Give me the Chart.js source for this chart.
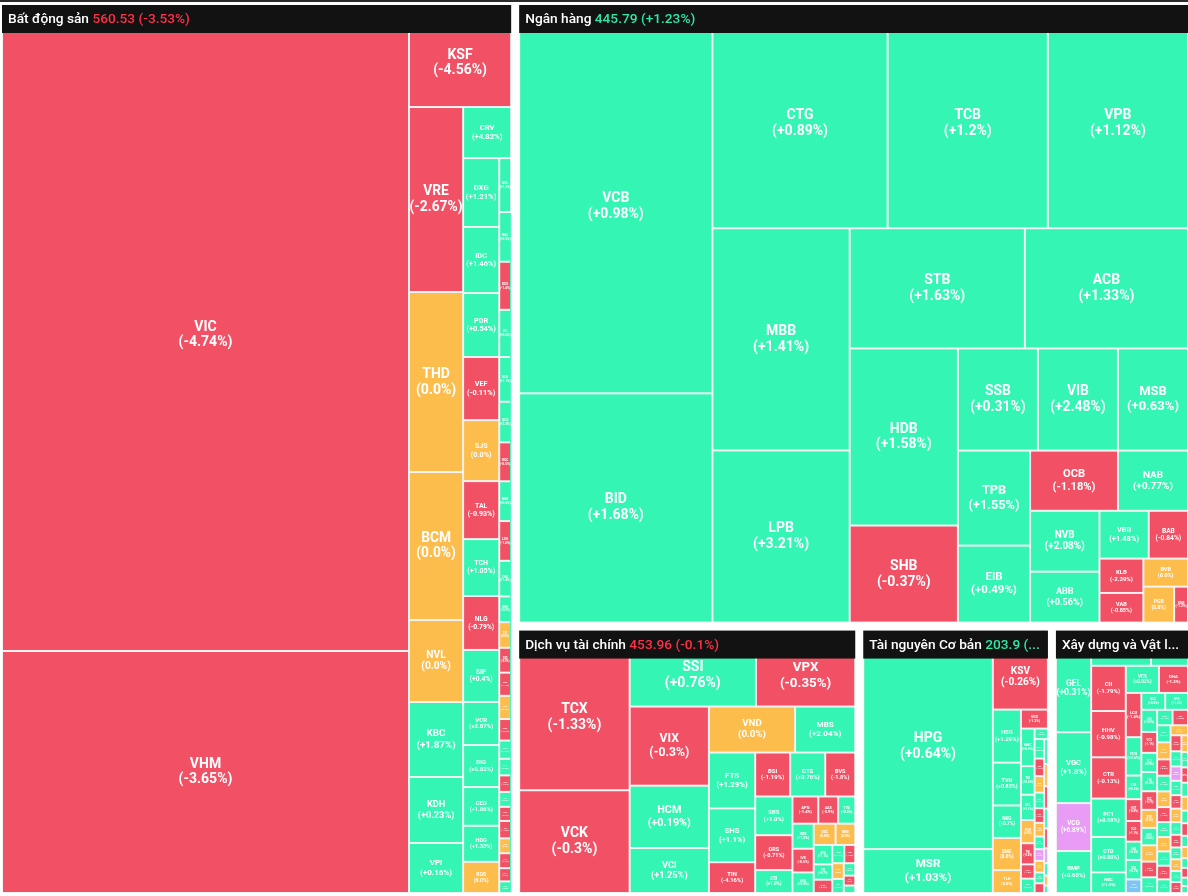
<!DOCTYPE html>
<html>
<head>
<meta charset="utf-8">
<title>Bản đồ nhiệt theo ngành</title>
<script src="https://cdn.jsdelivr.net/npm/chart.js@4.4.1/dist/chart.umd.min.js"></script>
<style>
	html, body { margin: 0; padding: 0; background: #fff; }
	#wrap { position: relative; width: 1188px; height: 896px; }
	#topline { position: absolute; left: 0; top: 0; width: 1188px; height: 2px; background: #2b2b2b; }
</style>
</head>
<body>
<div id="wrap"><canvas id="chart"></canvas><div id="topline"></div></div>
<script>
	// sectors (headers)
	var sectorNames = ['Bất động sản', 'Ngân hàng', 'Dịch vụ tài chính', 'Tài nguyên Cơ bản', 'Xây dựng và Vật liệu'];
	var sectorIndex = ['560.53', '445.79', '453.96', '203.9', '187.42'];
	var sectorChange = [-3.53, 1.23, -0.1, 0.52, 0.31];

	// Bất động sản
	var bdsTickers = ['VIC','VHM','KSF','VRE','THD','BCM','NVL','KBC','KDH','VPI','CRV','DXG','IDC','PDR','VEF','SJS','TAL','TCH','NLG','SIP','VCR','DIG','CEO','HDG','KOS',
		'NTL','HQC','DXS','ITC','SCR','QCG','HDC','NBB','LDG','CRE','DRH','TIP','D2D','SZC','LHG','NVT','HAR','DTA','TDH','PTL','SGR','TIX','VRC','FIR','CCL','HTN','AGG'];
	var bdsValues = [2688.1,1007.0,106.6,102.4,99.6,81.9,45.4,41.5,36.5,27.7,25.1,25.4,24.4,23.6,23.3,22.5,21.4,21.0,19.9,19.2,15.9,15.5,14.3,13.3,11.5,
		6.6,6.0,5.8,5.7,5.4,4.9,4.7,4.8,4.8,4.3,3.1,3.1,3.0,2.8,2.8,2.6,2.2,2.0,2.0,1.8,1.7,2.1,1.8,1.8,1.6,1.4,1.1];
	var bdsChanges = [-4.74,-3.65,-4.56,-2.67,0,0,0,1.87,0.23,0.16,4.82,1.21,1.46,0.54,-0.11,0,-0.93,1.05,-0.79,0.4,2.87,0.82,1.86,1.33,0,
		1.2,0.9,-1.4,0.6,1.1,2.3,-0.5,0.8,-1.8,1.4,0.7,0,-0.9,-1.3,0,-0.6,1.9,0.5,-2.1,0.3,-0.7,-1.0,0,-1.6,-0.4,1.5,0.9];

	// Ngân hàng
	var nhTickers = ['VCB','BID','CTG','TCB','VPB','MBB','LPB','STB','ACB','HDB','SHB','SSB','VIB','MSB','TPB','EIB','OCB','NAB','NVB','ABB','VBB','BAB','KLB','VAB','BVB','PGB','SGB'];
	var nhValues = [767.6,453.1,400.0,365.8,320.0,311.8,241.6,215.3,200.5,196.0,107.4,83.6,83.6,73.2,70.1,56.8,54.1,43.1,43.2,36.1,24.1,19.2,15.4,13.3,12.8,11.3,5.1];
	var nhChanges = [0.98,1.68,0.89,1.2,1.12,1.41,3.21,1.63,1.33,1.58,-0.37,0.31,2.48,0.63,1.55,0.49,-1.18,0.77,2.08,0.56,1.48,-0.84,-2.39,-0.85,0,0,-1.2];

	// Dịch vụ tài chính
	var dvTickers = ['TCX','VCK','SSI','VPX','VIX','HCM','VCI','VND','MBS','FTS','SHS','TIN','BSI','CTS','BVS','SBS','ORS','CSI',
		'APG','AAS','TVS','VDS','IVS','EVS','DSC','BMS','APS','PSI','AGR','TVB','HBS','WSS','VIG','PHS','TCI','SVS'];
	var dvValues = [185.7,119.5,101.0,79.4,66.0,52.0,37.5,41.7,29.1,27.2,26.2,15.0,16.2,16.2,13.9,15.2,13.7,9.0,
		7.4,5.7,4.9,5.6,5.3,4.6,4.9,4.4,3.8,3.0,2.6,2.3,2.1,1.9,1.7,1.5,1.2,0.9];
	var dvChanges = [-1.33,-0.3,0.76,-0.35,-0.3,0.19,1.25,0,2.04,1.29,1.1,-4.16,-1.19,0.76,-1.8,1.0,-0.71,1.0,
		-1.4,-0.9,0.8,1.2,-0.6,0.5,0,0,1.1,0.7,-0.8,0.4,-1.0,0,0.6,0.9,-0.5,0.3];

	// Tài nguyên Cơ bản
	var tnTickers = ['HPG','MSR','KSV','HSG','TVN','NKG','SMC','TLH','VGS','HMC','TIS','DTL','POM','TNI','VCA','KVC','SHI',
		'MCP','TDS','DNA','BKC','HLC','TVD','NBC','THT','MDC','TC6','CST','TNT','VIF','VTZ','HGM','KTL','LCM','BMC','NHH','DHM'];
	var tnValues = [303.7,61.0,46.7,16.0,12.9,9.8,9.7,6.9,5.5,5.5,4.2,3.7,3.4,3.1,2.1,2.1,1.5,
		2.0,1.8,1.7,1.6,1.5,1.4,1.3,1.2,1.2,1.1,1.0,1.0,0.9,0.9,0.8,0.8,0.6,0.5,0.4,0.3];
	var tnChanges = [0.64,1.03,-0.26,1.29,0.83,0.7,0,0,-1.2,0.9,0.6,1.1,0,-0.8,-1.3,0.5,0.4,
		0.8,-1.1,0,1.5,-0.7,0,0.4,6.9,0,0.6,-0.9,1.2,0,-1.4,0.5,-0.6,6.9,0.7,0,0.3];

	// Xây dựng và Vật liệu
	var xdTickers = ['GEL','VGC','VCG','BMP','HT1','KSB','CII','HHV','CTR','PC1','CTD','HBC','VCS','DHA','LCG','FCN','C4G','HUT','TCD','VNE','SCG','HID',
		'BCC','DPG','LIG','VC3','VC7','L14','CDC','DTD','MST','PVX','TV2','L18','CTX','SCI','CKG','NHA','HVH','S99','LUT','ICG',
		'PXI','MCG','DIH','VGV','BCE','DC4','SD5','SD9','VMC','VXB','HTI','THG','SZL','PHC','CRC','HAS','PTB','CTI','TCR','VIT',
		'DXV','QNC','BTS','HOM','VCC','LM8','HU1','HUB','VE4','MDG','CIG'];
	var xdValues = [39.0,27.2,18.4,16.1,23.0,14.2,17.1,17.5,15.6,14.5,13.4,7.8,9.8,8.6,7.5,6.5,4.0,3.7,3.5,3.1,3.3,2.3,
		4.4,4.2,3.8,3.6,3.3,3.3,3.2,3.1,3.0,2.8,2.7,2.7,2.6,2.6,2.5,2.5,2.4,2.3,2.3,2.2,
		2.2,2.1,2.1,2.0,2.0,1.9,1.9,1.8,1.7,1.7,1.6,1.6,1.5,1.5,1.4,1.4,1.3,1.3,1.2,1.1,
		1.1,1.0,1.0,0.9,0.9,0.8,0.8,0.7,0.7,0.6,0.5];
	var xdChanges = [0.31,1.3,6.89,0.65,0.5,0.8,-1.79,-0.98,-0.13,0.68,0.88,1.0,0.52,-1.2,-1.4,0.6,0.5,-0.8,-1.1,0.4,0.7,-6.9,
		0.8,1.2,0.5,-1.1,0.9,1.4,-0.7,0,0.6,0,-1.5,0.7,1.1,-0.9,0.4,0,-0.6,1.3,0,-1.2,
		0.8,0,0.5,-0.8,0.9,0,-0.4,0.6,6.9,1.0,-1.3,0,0.7,-0.5,0.3,0,1.2,-0.9,0,0.4,
		-0.7,0.6,0,0.9,-1.0,0.5,0,0.8,-0.3,0.4,0.2];

	var sectorTickers = [bdsTickers, nhTickers, dvTickers, tnTickers, xdTickers];
	var sectorValues = [bdsValues, nhValues, dvValues, tnValues, xdValues];
	var sectorChanges = [bdsChanges, nhChanges, dvChanges, tnChanges, xdChanges];

	// layout in axis units (x: 0..1188, y: 0..896)
	var AREA = { x: -2, y: 1, w: 1194, h: 896 };
	var PAD = 4;
	var HEADER = 28;

	function colorOf(c) {
		if (c >= 6.8) return '#E89CF6';
		if (c <= -6.8) return '#7CC6F7';
		if (c > 0) return '#35F5B5';
		if (c < 0) return '#F25064';
		return '#FDBD4C';
	}
	function fmt(c) {
		if (c === 0) return '0.0';
		var s = Number.isInteger(c) ? c.toFixed(1) : String(c);
		return c > 0 ? '+' + s : s;
	}
	function sum(a) { return a.reduce(function (p, v) { return p + v; }, 0); }

	// squarified layout with alternating direction (lowest aspect ratio of the last point)
	function squarify(rect, values) {
		var total = sum(values);
		var out = [];
		var plot = { x: rect.x, y: rect.y };
		var g = { width: rect.w, height: rect.h, dir: 0, total: 0, nW: 0, lW: 0, nH: 0, lH: 0, lR: 0, nR: 0, el: [] };
		function ratio(a, b) { return Math.max(a / b, b / a); }
		function add(el) {
			var prev = g.el[g.el.length - 1];
			g.total += el;
			if (g.dir === 0) {
				g.lW = g.nW;
				g.lR = ratio(g.lW, prev / g.lW);
				g.nW = g.total / g.height;
				g.nR = ratio(g.nW, prev / g.nW);
			} else {
				g.lH = g.nH;
				g.lR = ratio(prev / g.lH, g.lH);
				g.nH = g.total / g.width;
				g.nR = ratio(prev / g.nH, g.nH);
			}
			g.el.push(el);
		}
		function place(last) {
			var gW = last ? g.nW : g.lW, gH = last ? g.nH : g.lH;
			var keep = last ? null : g.el[g.el.length - 1];
			var end = g.el.length - 1;
			g.el.forEach(function (p, i) {
				if (!last && i === end) return;
				var r = g.dir === 0 ? { x: plot.x, y: plot.y, w: gW, h: p / gW } : { x: plot.x, y: plot.y, w: p / gH, h: gH };
				out.push(r);
				if (g.dir === 0) plot.y += r.h; else plot.x += r.w;
			});
			g.nW = 0; g.lW = 0; g.el = []; g.total = 0;
			if (g.dir === 0) g.width -= gW; else g.height -= gH;
			plot.y = rect.y + (rect.h - g.height);
			plot.x = rect.x + (rect.w - g.width);
			g.dir = 1 - g.dir;
			if (!last) add(keep);
		}
		values.forEach(function (v, i) {
			add(rect.w * rect.h * v / total);
			if (g.nR > g.lR) place(false);
			if (i === values.length - 1) place(true);
		});
		return out;
	}

	var treemapPlugin = {
		id: 'treemap',
		afterDraw: function (chart) {
			var ctx = chart.ctx, xs = chart.scales.x, ys = chart.scales.y;
			var blocks = squarify(AREA, sectorValues.map(sum));
			blocks.forEach(function (b, s) {
				var box = { x: b.x + PAD, y: b.y + PAD, w: b.w - 2 * PAD, h: b.h - 2 * PAD };
				var cells = squarify(box, sectorValues[s]);
				var bx0 = xs.getPixelForValue(box.x), bx1 = xs.getPixelForValue(box.x + box.w);
				var by0 = ys.getPixelForValue(box.y), by1 = ys.getPixelForValue(box.y + box.h);

				ctx.save();
				ctx.beginPath();
				ctx.rect(bx0, by0, bx1 - bx0, by1 - by0);
				ctx.clip();
				ctx.fillStyle = '#f3f3f3';
				ctx.fillRect(bx0, by0, bx1 - bx0, by1 - by0);

				var px = cells.map(function (c) {
					return {
						x0: xs.getPixelForValue(c.x), x1: xs.getPixelForValue(c.x + c.w),
						y0: ys.getPixelForValue(c.y), y1: ys.getPixelForValue(c.y + c.h)
					};
				});
				px.forEach(function (p, i) {
					ctx.fillStyle = colorOf(sectorChanges[s][i]);
					ctx.fillRect(p.x0 + 1, p.y0 + 1, p.x1 - p.x0 - 2, p.y1 - p.y0 - 2);
				});

				// labels
				ctx.fillStyle = '#ffffff';
				ctx.textAlign = 'center';
				ctx.textBaseline = 'middle';
				px.forEach(function (p, i) {
					var w = p.x1 - p.x0, h = p.y1 - p.y0;
					var l1 = sectorTickers[s][i], l2 = '(' + fmt(sectorChanges[s][i]) + '%)';
					var fs = Math.min(14, Math.sqrt(w * h) / 6.5);
					ctx.font = 'bold ' + fs + 'px Roboto';
					var tw = Math.max(ctx.measureText(l1).width, ctx.measureText(l2).width);
					if (tw > w - 1) fs *= (w - 1) / tw;
					if (fs * 2.3 > h - 2) fs = (h - 2) / 2.3;
					if (fs < 1.5) return;
					ctx.font = 'bold ' + fs + 'px Roboto';
					var top = Math.max(p.y0, by0 + HEADER / 2);
					var cy = (top + p.y1) / 2, cx = (p.x0 + p.x1) / 2;
					if (cy - 1.1 * fs < by0 + HEADER) return;
					ctx.fillText(l1, cx, cy - 0.57 * fs);
					ctx.fillText(l2, cx, cy + 0.57 * fs);
				});
				ctx.restore();

				// header
				ctx.save();
				ctx.fillStyle = '#121212';
				ctx.fillRect(bx0, by0, bx1 - bx0, HEADER);
				ctx.beginPath();
				ctx.rect(bx0, by0, bx1 - bx0, HEADER);
				ctx.clip();
				ctx.font = '500 13.7px Roboto';
				ctx.textAlign = 'left';
				ctx.textBaseline = 'middle';
				var chg = sectorChange[s];
				var segs = [
					{ t: sectorNames[s] + ' ', c: '#ffffff' },
					{ t: sectorIndex[s] + ' (' + fmt(chg) + '%)', c: chg < 0 ? '#FF3047' : '#2FE8A8' }
				];
				var full = segs[0].t + segs[1].t;
				var avail = bx1 - bx0 - 12;
				var shown = full, ell = '';
				if (ctx.measureText(full).width > avail) {
					var n = full.length;
					while (n > 0 && ctx.measureText(full.slice(0, n).replace(/\s+$/, '') + '...').width > avail) n--;
					shown = full.slice(0, n).replace(/\s+$/, '');
					ell = '...';
				}
				var tx = bx0 + 6, ty = by0 + 14.5;
				var cut0 = Math.min(shown.length, segs[0].t.length);
				ctx.fillStyle = segs[0].c;
				ctx.fillText(shown.slice(0, cut0), tx, ty);
				tx += ctx.measureText(shown.slice(0, cut0)).width;
				if (shown.length > cut0) {
					ctx.fillStyle = segs[1].c;
					ctx.fillText(shown.slice(cut0), tx, ty);
					tx += ctx.measureText(shown.slice(cut0)).width;
				}
				if (ell) {
					ctx.fillStyle = shown.length > segs[0].t.length ? segs[1].c : segs[0].c;
					ctx.fillText(ell, tx, ty);
				}
				ctx.restore();
			});
		}
	};

	new Chart(document.getElementById('chart'), {
		type: 'scatter',
		data: { datasets: [] },
		options: {
			responsive: true,
			maintainAspectRatio: false,
			animation: false,
			layout: { padding: 0 },
			plugins: { legend: { display: false }, tooltip: { enabled: false } },
			scales: {
				x: { type: 'linear', min: 0, max: 1188, display: false },
				y: { type: 'linear', min: 0, max: 896, reverse: true, display: false }
			}
		},
		plugins: [treemapPlugin]
	});
</script>
</body>
</html>
